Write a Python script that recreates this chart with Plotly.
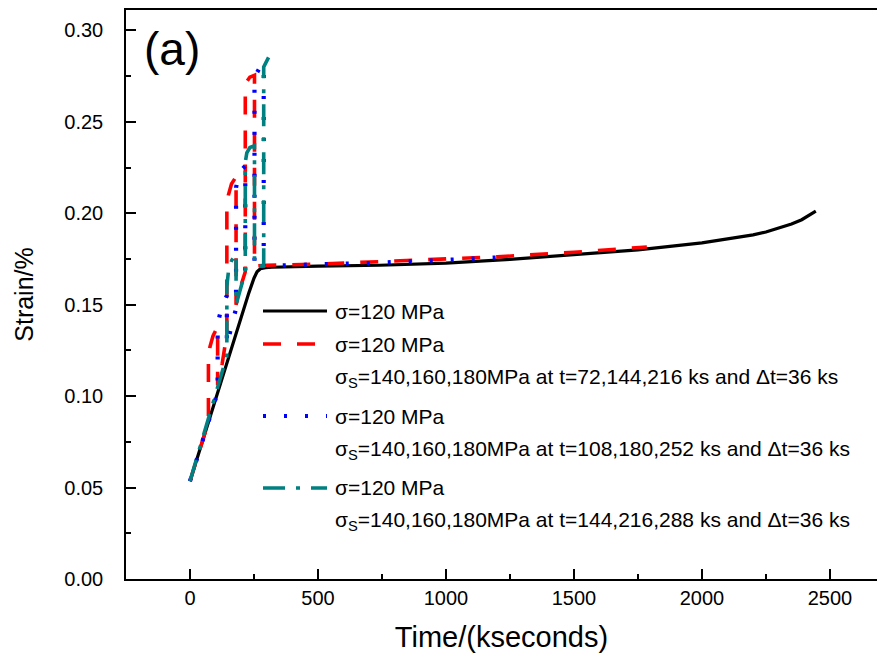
import plotly.graph_objects as go

# ---------------- data ----------------
t_black = [0, 60, 120, 180, 230, 250, 262, 275, 295, 320, 400, 500, 742, 1000, 1250,
           1500, 1750, 2000, 2100, 2200, 2250, 2300, 2350, 2390, 2420, 2445]
s_black = [0.0535, 0.0805, 0.1075, 0.1345, 0.1565, 0.1645, 0.1680, 0.1697, 0.1703, 0.1705,
           0.1708, 0.1711, 0.1716, 0.1728, 0.1748, 0.1772, 0.1800, 0.1838, 0.1858, 0.1882,
           0.1898, 0.1920, 0.1942, 0.1965, 0.1990, 0.2012]

t_red = [0, 72, 72, 78, 90, 108, 108, 126, 144, 144, 150, 162, 180, 180, 198, 216, 216,
         222, 234, 252, 252, 300, 500, 800, 1000, 1200, 1500, 1785]
s_red = [0.0535, 0.0859, 0.118, 0.127, 0.133, 0.138, 0.106, 0.118, 0.134, 0.203, 0.210,
         0.216, 0.220, 0.150, 0.160, 0.168, 0.268, 0.272, 0.2745, 0.2755, 0.1712, 0.1716,
         0.1722, 0.1738, 0.1748, 0.1762, 0.1787, 0.1816]

t_blue = [0, 108, 108, 114, 126, 144, 144, 162, 180, 180, 186, 198, 216, 216, 234, 252,
          252, 258, 270, 288, 288, 400, 700, 1000, 1219]
s_blue = [0.0535, 0.1021, 0.135, 0.143, 0.150, 0.155, 0.128, 0.138, 0.148, 0.214, 0.219,
          0.223, 0.226, 0.168, 0.170, 0.171, 0.272, 0.276, 0.279, 0.2815, 0.1712, 0.1717,
          0.1728, 0.1745, 0.1760]

t_teal = [0, 144, 144, 150, 162, 180, 180, 198, 216, 216, 222, 234, 252, 252, 270, 288,
          288, 300, 312, 324]
s_teal = [0.0535, 0.122, 0.160, 0.168, 0.174, 0.178, 0.150, 0.160, 0.168, 0.228, 0.233,
          0.236, 0.237, 0.171, 0.1711, 0.1712, 0.280, 0.283, 0.287, 0.290]

legend_main = "σ=120 MPa"
legend_sub = [
    "σ<sub>S</sub>=140,160,180MPa at t=72,144,216 ks and Δt=36 ks",
    "σ<sub>S</sub>=140,160,180MPa at t=108,180,252 ks and Δt=36 ks",
    "σ<sub>S</sub>=140,160,180MPa at t=144,216,288 ks and Δt=36 ks",
]

x_ticks = [0, 500, 1000, 1500, 2000, 2500]
y_ticks = [0.00, 0.05, 0.10, 0.15, 0.20, 0.25, 0.30]

# ---------------- styles ----------------
W, H = 877, 657
ML, MR, MT, MB = 126, 0, 10, 78
FONT = "Liberation Sans, Arial, sans-serif"

series = [
    (t_black, s_black, "black", "solid", 3.2),
    (t_red, s_red, "#FF0000", "18px,16px", 3.6),
    (t_blue, s_blue, "#0000FF", "3px,18px", 4.2),
    (t_teal, s_teal, "#008080", "22px,11px,4px,11px", 3.6),
]

fig = go.Figure()
for tx, sy, col, dash, w in series:
    fig.add_trace(go.Scatter(x=tx, y=sy, mode="lines", showlegend=False,
                             line=dict(color=col, dash=dash, width=w)))

# ---------------- manual legend ----------------
def px_x(px):
    return (px - ML) / (W - ML - MR)

def px_y(py):
    return (H - MB - py) / (H - MB - MT)

rows = [
    (311, legend_main, series[0]),
    (344, legend_main, series[1]),
    (378, legend_sub[0], None),
    (416, legend_main, series[2]),
    (450, legend_sub[1], None),
    (488, legend_main, series[3]),
    (521, legend_sub[2], None),
]
annotations = []
shapes = []
for py, txt, ser in rows:
    annotations.append(dict(x=px_x(333), y=px_y(py), xref="paper", yref="paper",
                            text=txt, showarrow=False, xanchor="left", yanchor="middle",
                            font=dict(family=FONT, size=21, color="black")))
    if ser is not None:
        shapes.append(dict(type="line", xref="paper", yref="paper",
                           x0=px_x(263), x1=px_x(327), y0=px_y(py), y1=px_y(py),
                           line=dict(color=ser[2], dash=ser[3], width=ser[4])))

annotations.append(dict(x=px_x(142), y=px_y(49), xref="paper", yref="paper", text="(a)",
                        showarrow=False, xanchor="left", yanchor="middle",
                        font=dict(family=FONT, size=46, color="black")))

fig.update_layout(
    width=W, height=H,
    margin=dict(l=ML, r=MR, t=MT, b=MB),
    paper_bgcolor="white", plot_bgcolor="white",
    font=dict(family=FONT, color="black"),
    annotations=annotations, shapes=shapes,
    xaxis=dict(range=[-250, 2684], tickvals=x_ticks, ticks="inside", ticklen=10,
               tickwidth=1.5, tickcolor="black", showline=True, linecolor="black",
               linewidth=1.5, mirror=True, showgrid=False, zeroline=False,
               ticklabelstandoff=0,
               minor=dict(dtick=250, tick0=0, ticks="inside", ticklen=5, tickwidth=1.5,
                          tickcolor="black", showgrid=False),
               tickfont=dict(family=FONT, size=20),
               title=dict(text="Time/(kseconds)", font=dict(family=FONT, size=29),
                          standoff=19)),
    yaxis=dict(range=[0, 0.3112], tickvals=y_ticks, tickformat=".2f", ticks="inside",
               ticklen=10, tickwidth=1.5, tickcolor="black", showline=True,
               linecolor="black", linewidth=1.5, mirror=False, showgrid=False,
               zeroline=False, ticklabelstandoff=17,
               minor=dict(dtick=0.025, tick0=0, ticks="inside", ticklen=5, tickwidth=1.5,
                          tickcolor="black", showgrid=False),
               tickfont=dict(family=FONT, size=20),
               title=dict(text="Strain/%", font=dict(family=FONT, size=25), standoff=24)),
)

fig.write_html("out.html")
